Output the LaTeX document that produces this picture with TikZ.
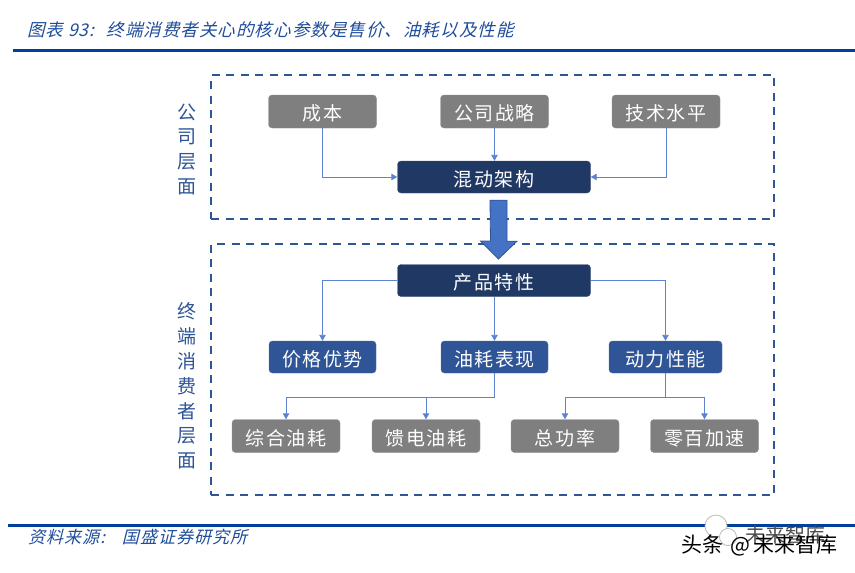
\documentclass[tikz,border=0pt]{standalone}
\usepackage{fontspec}
\usetikzlibrary{arrows.meta,shapes.arrows,calc}
\setmainfont{Noto Sans CJK SC}
\newfontfamily\cjklab[LetterSpace=8]{Noto Sans CJK SC}
\newfontfamily\cjkslant[FakeSlant=0.25,LetterSpace=6]{Noto Sans CJK SC}
\definecolor{navy}{HTML}{1F3864}
\definecolor{midblue}{HTML}{2F5597}
\definecolor{greybox}{HTML}{7F7F7F}
\definecolor{linkblue}{HTML}{5B83D0}
\definecolor{bigblue}{HTML}{4472C4}
\definecolor{rulebl}{HTML}{003F9A}
\definecolor{dashbl}{HTML}{2F5597}
\definecolor{titlebl}{HTML}{1F4E9C}
\tikzset{
  x=1pt,y=-1pt,
  basebox/.style={rounded corners=3.5pt,inner sep=0pt,text=white,font=\fontsize{19}{20}\selectfont\cjklab,anchor=center,text height=18pt,text depth=0pt},
  greynode/.style={basebox,fill=greybox,draw=greybox!85!white,minimum width=108pt,minimum height=33pt},
  navynode/.style={basebox,fill=navy,draw=navy!85!white,minimum width=193pt,minimum height=32pt},
  bluenode/.style={basebox,fill=midblue,draw=midblue!85!white,minimum height=32pt},
  frameline/.style={draw=dashbl,line width=2pt,dash pattern=on 8pt off 6.5pt},
  link/.style={draw=linkblue,line width=0.9pt,-{Triangle[length=6pt,width=6.5pt]}},
  sidelabel/.style={text=midblue,font=\fontsize{19}{20}\selectfont},
  titletext/.style={text=titlebl,font=\fontsize{17.5}{18}\selectfont\cjkslant,anchor=west,inner sep=0pt},
  rulebar/.style={draw=rulebl,line width=3pt},
}
\begin{document}
\begin{tikzpicture}
\useasboundingbox (0,0) rectangle (855,573);
\fill[white] (0,0) rectangle (855,573);
% rules and captions
\coordinate (r1a) at (13,50); \coordinate (r1b) at (855,50);
\coordinate (r2a) at (8,525.5); \coordinate (r2b) at (855,525.5);
\draw[rulebar] (r1a) -- (r1b);
\draw[rulebar] (r2a) -- (r2b);
\node[titletext] (title) at (27,30) {图表 93:\hspace{12pt}终端消费者关心的核心参数是售价、油耗以及性能};
\node[titletext,font=\fontsize{17}{18}\selectfont\cjkslant] (source) at (28,537) {资料来源:\hspace{17pt}国盛证券研究所};
% frames
\node[frameline,minimum width=563pt,minimum height=144pt,inner sep=0pt] (frameA) at (492.5,147) {};
\node[frameline,minimum width=563pt,minimum height=251pt,inner sep=0pt] (frameB) at (492.5,369.5) {};
% side labels
\foreach \ch [count=\i from 0] in {公,司,层,面}
  \node[sidelabel] (sa\i) at (187,{112+25*\i}) {\ch};
\foreach \ch [count=\i from 0] in {终,端,消,费,者,层,面}
  \node[sidelabel] (sb\i) at (187,{311+25*\i}) {\ch};
% nodes
\node[greynode] (cost) at (322.5,111.5) {成本};
\node[greynode] (strat) at (494.5,111.5) {公司战略};
\node[greynode] (tech) at (666,111.5) {技术水平};
\node[navynode] (hybrid) at (494,177) {混动架构};
\node[navynode] (prod) at (494,280.5) {产品特性};
\node[bluenode,minimum width=107pt] (price) at (322.5,357) {价格优势};
\node[bluenode,minimum width=107pt] (fuel) at (494.5,357) {油耗表现};
\node[bluenode,minimum width=113pt] (power) at (665.5,357) {动力性能};
\node[greynode] (comb) at (286,436) {综合油耗};
\node[greynode] (cs) at (426,436) {馈电油耗};
\node[greynode] (total) at (565,436) {总功率};
\node[greynode] (accel) at (704.5,436) {零百加速};
% big arrow
\coordinate (bigTop) at ($(hybrid.south)+(4.5,7)$);
\fill[bigblue,draw=midblue,line width=0.8pt]
  (bigTop) ++(-8.5,0) -- ++(17,0) -- ++(0,41) -- ++(10,0) -- (498.5,259) -- (480.5,241) -- ++(10,0) -- cycle;
% connectors
\draw[link] (cost.south) |- (hybrid.west);
\draw[link] (tech.south) |- (hybrid.east);
\draw[link] (strat.south) -- (hybrid.north -| strat.south);
\draw[link] (prod.west) -| (price.north);
\draw[link] (prod.east) -| (power.north);
\draw[link] (prod.south -| fuel.north) -- (fuel.north);
\coordinate (busL) at (0,397);
\draw[link] (fuel.south) |- (busL -| fuel.south) -| (comb.north);
\draw[link] (busL -| cs.north) -- (cs.north);
\draw[link] (power.south) |- (busL -| power.south) -| (total.north);
\draw[link] (busL -| power.south) -| (accel.north);
% watermark
\draw[black!30,fill=white,line width=0.7pt] (716,526) circle (11);
\draw[black!30,fill=white,line width=0.7pt] (728,537) circle (8.5);
\node[text=black!70,font=\fontsize{20}{21}\selectfont,anchor=west,inner sep=0pt] (wm1) at (745,535) {未来智库};
\node[text=black,font=\fontsize{21}{22}\selectfont,anchor=west,inner sep=0pt] (wm2) at (681,545) {头条\hspace{3pt} @\hspace{3pt}未来智库};
\end{tikzpicture}
\end{document}
